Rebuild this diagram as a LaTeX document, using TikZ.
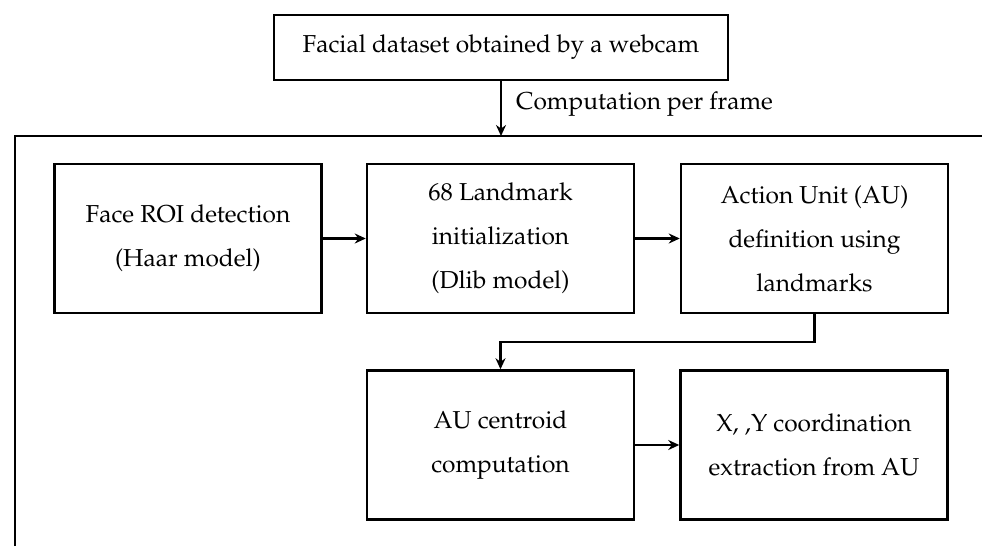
\documentclass[tikz,border=0pt]{standalone}
\usepackage[T1]{fontenc}
\usepackage{mathpazo}
\usetikzlibrary{arrows.meta}
\begin{document}
\begin{tikzpicture}[x=1pt,y=-1pt,
  box/.style={draw,line width=2.5pt,minimum width=267pt,minimum height=149pt,align=center,inner sep=0pt,font=\fontsize{24.5}{44}\selectfont},
  conn/.style={line width=2.3pt,-{Stealth[length=11pt,width=10pt]}}]
\useasboundingbox (0,0) rectangle (982,546);
\node[draw,line width=2.5pt,minimum width=454pt,minimum height=65pt,inner sep=0pt,font=\fontsize{24.5}{44}\selectfont] (top) at (501,47.5) {Facial dataset obtained by a webcam};
\coordinate (fbl) at (15,546);
\coordinate (ftl) at (15,136);
\coordinate (ftr) at (982,136);
\draw[line width=2.5pt] (fbl) -- (ftl) -- (ftr);
\node[anchor=west,inner sep=0pt,font=\fontsize{24.5}{30}\selectfont] (lbl) at (516,104) {Computation per frame};
\node[box] (b1) at (188,238.5) {Face ROI detection\\(Haar model)};
\node[box] (b2) at (500.5,238.5) {68 Landmark\\initialization\\(Dlib model)};
\node[box] (b3) at (814.5,238.5) {Action Unit (AU)\\definition using\\landmarks};
\node[box] (b4) at (500.5,445) {AU centroid\\computation};
\node[box] (b5) at (814,445) {X, ,Y coordination\\extraction from AU};
\draw[conn] (top.south) -- (top.south |- ftl);
\draw[conn] (b1) -- (b2);
\draw[conn] (b2) -- (b3);
\coordinate (turn) at (814.5,342);
\draw[conn] (b3.south) -- (turn) -- (turn -| b4.north) -- (b4.north);
\draw[conn] (b4) -- (b5);
\end{tikzpicture}
\end{document}
